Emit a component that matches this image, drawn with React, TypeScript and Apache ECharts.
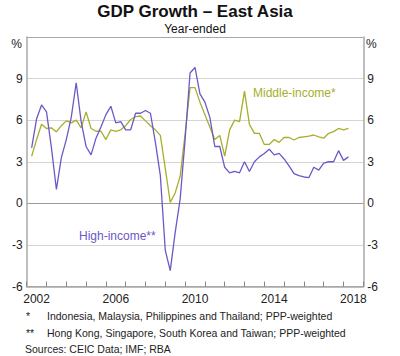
import React, { useEffect, useRef } from "react";
import * as echarts from "echarts";

const startYear = 2002;
// Quarterly, year-ended GDP growth, 2002 Q1 to 2018 Q1 (per cent)
const highIncome = [
  4.0, 6.1, 7.1, 6.6, 4.0, 1.0, 3.3, 4.6, 6.2, 8.7, 5.9, 4.1, 3.5, 4.7, 5.5, 6.4,
  7.0, 5.8, 5.9, 5.3, 5.3, 6.5, 6.5, 6.7, 6.5, 4.4, 2.0, -3.4, -4.85, -2.1, 0.3, 4.6,
  9.4, 9.8, 7.9, 7.3, 6.2, 4.1, 4.1, 2.6, 2.2, 2.3, 2.2, 3.0, 2.3, 3.0, 3.35, 3.6,
  3.9, 3.5, 3.6, 3.2, 2.7, 2.15, 2.0, 1.9, 1.85, 2.6, 2.4, 2.9, 3.0, 3.0, 3.8, 3.1,
  3.35,
];
const middleIncome = [
  3.4, 4.6, 5.7, 5.4, 5.45, 5.15, 5.6, 5.95, 5.8, 6.0, 5.45, 6.6, 5.4, 5.2, 5.2, 4.6,
  5.3, 5.2, 5.3, 5.6, 6.05, 6.25, 6.3, 5.95, 5.6, 5.3, 4.9, 2.5, 0.07, 0.75, 1.95, 5.0,
  8.35, 8.35, 7.3, 6.4, 5.5, 4.6, 4.9, 3.4, 5.3, 6.0, 5.9, 8.1, 5.7, 5.05, 5.05, 4.25,
  4.25, 4.6, 4.4, 4.75, 4.75, 4.57, 4.75, 4.8, 4.85, 4.93, 4.8, 4.7, 5.05, 5.17, 5.4, 5.3,
  5.4,
];
const yearLabels = [2002, 2006, 2010, 2014, 2018];
const yTicks = { min: -6, max: 12, interval: 3 };

const title = "GDP Growth – East Asia";
const subtitle = "Year-ended";
const footnotes = [
  ["*", "Indonesia, Malaysia, Philippines and Thailand; PPP-weighted"],
  ["**", "Hong Kong, Singapore, South Korea and Taiwan; PPP-weighted"],
];
const sources = "Sources: CEIC Data; IMF; RBA";

const PURPLE = "#6c58c6";
const OLIVE = "#a9ad2c";
const FONT = "'Liberation Sans', Arial, sans-serif";

const toXY = (vals: number[]) =>
  vals.map((v, i) => [startYear + (i + 1) / 4, v]);

export default function App() {
  const ref = useRef<HTMLDivElement>(null);
  useEffect(() => {
    if (!ref.current) return;
    const chart = echarts.init(ref.current, undefined, { renderer: "svg" });
    const yLabel = (v: number) => (v === yTicks.max ? "" : String(v));
    const yAxisBase = {
      type: "value" as const,
      min: yTicks.min,
      max: yTicks.max,
      interval: yTicks.interval,
      axisLine: { show: true, lineStyle: { color: "#a8a8a8", width: 1.5 } },
      axisTick: { show: false },
      axisLabel: { formatter: yLabel, color: "#222", fontSize: 12, fontFamily: FONT, margin: 4 },
    };
    chart.setOption({
      animation: false,
      textStyle: { fontFamily: FONT },
      grid: { left: 26.7, right: 36.7, top: 37, bottom: 69.5, containLabel: false },
      xAxis: [
        {
          type: "value",
          min: 2002,
          max: 2019,
          interval: 1,
          axisLine: { show: true, onZero: false, lineStyle: { color: "#a8a8a8", width: 1.5 } },
          axisTick: { show: true, inside: true, length: 5, lineStyle: { color: "#888" } },
          axisLabel: { show: false },
          splitLine: { show: false },
        },
        {
          type: "value",
          position: "bottom",
          min: 2001.5,
          max: 2018.5,
          interval: 0.5,
          axisLine: { show: false },
          axisTick: { show: false },
          splitLine: { show: false },
          axisLabel: {
            color: "#222",
            fontSize: 12,
            fontFamily: FONT,
            margin: 6,
            formatter: (v: number) => (yearLabels.includes(v) ? String(v) : ""),
          },
        },
      ],
      yAxis: [
        {
          ...yAxisBase,
          position: "left",
          splitLine: {
            show: true,
            lineStyle: {
              color: ["#a8a8a8", "#d4d4d4", "#999999", "#d4d4d4", "#d4d4d4", "#d4d4d4", "#a8a8a8"],
              width: 1.2,
            },
          },
        },
        {
          ...yAxisBase,
          position: "right",
          splitLine: { show: false },
        },
      ],
      series: [
        {
          type: "line",
          name: "Middle-income",
          data: toXY(middleIncome),
          showSymbol: false,
          symbol: "none",
          lineStyle: { color: OLIVE, width: 1.3 },
          z: 3,
        },
        {
          type: "line",
          name: "High-income",
          data: toXY(highIncome),
          showSymbol: false,
          symbol: "none",
          lineStyle: { color: PURPLE, width: 1.3 },
          z: 4,
        },
      ],
      graphic: [
        {
          type: "text",
          x: 195,
          y: 3,
          style: { text: title, fontSize: 17, fontWeight: "bold", fill: "#111", align: "center", fontFamily: FONT },
        },
        {
          type: "text",
          x: 195,
          y: 23,
          style: { text: subtitle, fontSize: 12, fill: "#111", align: "center", fontFamily: FONT },
        },
        {
          type: "text",
          x: 22,
          y: 38,
          style: { text: "%", fontSize: 12, fill: "#222", align: "right", fontFamily: FONT },
        },
        {
          type: "text",
          x: 366,
          y: 38,
          style: { text: "%", fontSize: 12, fill: "#222", align: "left", fontFamily: FONT },
        },
        {
          type: "text",
          x: 253,
          y: 87,
          style: { text: "Middle-income*", fontSize: 12, fill: OLIVE, fontFamily: FONT },
        },
        {
          type: "text",
          x: 79,
          y: 230,
          style: { text: "High-income**", fontSize: 12, fill: PURPLE, fontFamily: FONT },
        },
        ...footnotes.flatMap(([mark, text], k) => [
          {
            type: "text",
            x: 26,
            y: 310 + k * 17,
            style: { text: mark, fontSize: 10.5, fill: "#222", fontFamily: FONT },
          },
          {
            type: "text",
            x: 47,
            y: 310 + k * 17,
            style: { text, fontSize: 10.5, fill: "#222", fontFamily: FONT },
          },
        ]),
        {
          type: "text",
          x: 25,
          y: 343,
          style: { text: sources, fontSize: 10.5, fill: "#222", fontFamily: FONT },
        },
      ],
    });
    return () => chart.dispose();
  }, []);
  return (
    <div
      ref={ref}
      style={{ position: "fixed", left: 0, top: 0, width: 400, height: 356, background: "#fff" }}
    />
  );
}
